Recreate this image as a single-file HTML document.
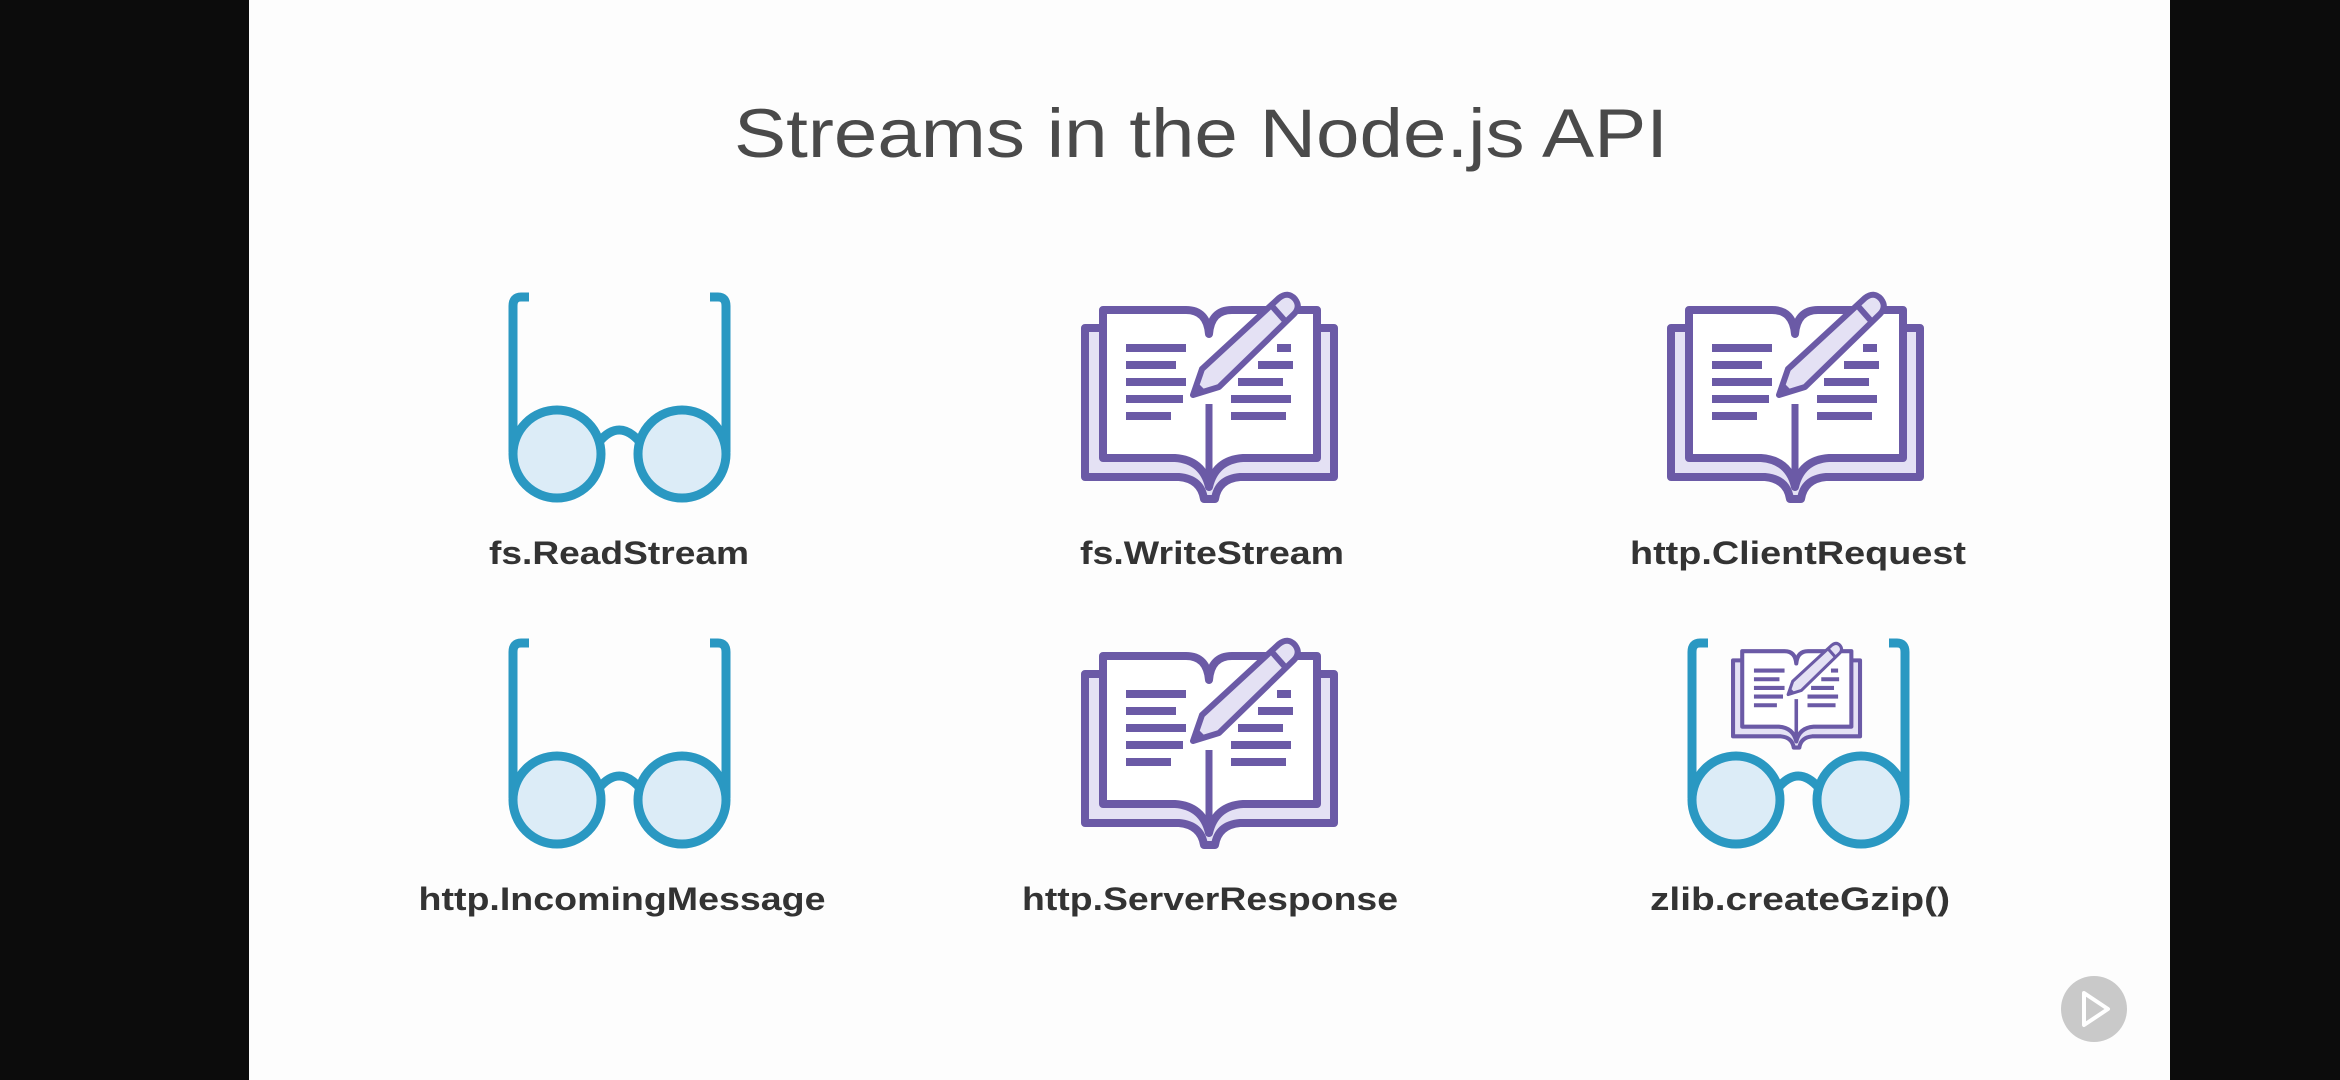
<!DOCTYPE html>
<html><head><meta charset="utf-8"><style>
html,body{margin:0;padding:0;background:#000;}
svg{display:block;}
</style></head><body>
<svg width="2340" height="1080" viewBox="0 0 2340 1080" xmlns="http://www.w3.org/2000/svg">
<defs>
<g id="book">
  <path d="M4,36 L4,185 L98,185 Q120,187 123,207 L134,207 Q137,187 159,185 L253,185 L253,36 Z" fill="#e4e1f4" stroke="#6b5aa6" stroke-width="8" stroke-linejoin="round"/>
  <path d="M22,18 L105,18 Q126,18 128,42 Q130,18 151,18 L236,18 L236,166 L162,166 Q134,168 128,195 Q122,168 94,166 L22,166 Z" fill="#fff" stroke="#6b5aa6" stroke-width="8" stroke-linejoin="round"/>
  <line x1="128" y1="112" x2="128" y2="196" stroke="#6b5aa6" stroke-width="7"/>
  <g stroke="#6b5aa6" stroke-width="8">
    <line x1="45" y1="56" x2="105" y2="56"/>
    <line x1="45" y1="73" x2="95" y2="73"/>
    <line x1="45" y1="90" x2="105" y2="90"/>
    <line x1="45" y1="107" x2="102" y2="107"/>
    <line x1="45" y1="124" x2="90" y2="124"/>
    <line x1="196" y1="56" x2="210" y2="56"/>
    <line x1="177" y1="73" x2="212" y2="73"/>
    <line x1="157" y1="90" x2="202" y2="90"/>
    <line x1="150" y1="107" x2="210" y2="107"/>
    <line x1="150" y1="124" x2="205" y2="124"/>
  </g>
  <path d="M112,103 L121,77 L198,6 Q207,-1 214,7 Q220,15 213,22 L138,95 Z" fill="#e4e1f4" stroke="#6b5aa6" stroke-width="6" stroke-linejoin="round"/>
  <line x1="190" y1="13" x2="205" y2="30" stroke="#6b5aa6" stroke-width="6"/>
  <path d="M112,103 L117,91 L124,98 Z" fill="#6b5aa6"/>
</g>
<g id="glasses" fill="none" stroke="#2a98c2" stroke-width="9">
  <path d="M20,5 L12,5 Q4,5 4,14 L4,160"/>
  <path d="M201,5 L209,5 Q217,5 217,14 L217,160"/>
  <circle cx="48" cy="162" r="44" fill="#dcecf7"/>
  <circle cx="173" cy="162" r="44" fill="#dcecf7"/>
  <path d="M90,150 Q110,126 131,150"/>
</g>
</defs>
<rect x="0" y="0" width="2340" height="1080" fill="#0c0c0c"/>
<rect x="249" y="0" width="1921" height="1080" fill="#fdfdfd"/>
<text x="1201" y="157" text-anchor="middle" font-family="Liberation Sans, sans-serif" font-size="69" fill="#4a4a4a" textLength="934" lengthAdjust="spacingAndGlyphs">Streams in the Node.js API</text>

<use href="#glasses" x="509" y="292"/>
<use href="#book" x="1081" y="292"/>
<use href="#book" x="1667" y="292"/>
<use href="#glasses" x="509" y="638"/>
<use href="#book" x="1081" y="638"/>
<use href="#glasses" x="1688" y="638"/>
<g transform="translate(1731,642) scale(0.51)"><use href="#book"/></g>

<g font-family="Liberation Sans, sans-serif" font-size="32" font-weight="bold" fill="#333" text-anchor="middle">
  <text x="619" y="564" textLength="260" lengthAdjust="spacingAndGlyphs">fs.ReadStream</text>
  <text x="1212" y="564" textLength="264" lengthAdjust="spacingAndGlyphs">fs.WriteStream</text>
  <text x="1798" y="564" textLength="336" lengthAdjust="spacingAndGlyphs">http.ClientRequest</text>
  <text x="622" y="910" textLength="407" lengthAdjust="spacingAndGlyphs">http.IncomingMessage</text>
  <text x="1210" y="910" textLength="376" lengthAdjust="spacingAndGlyphs">http.ServerResponse</text>
  <text x="1800" y="910" textLength="300" lengthAdjust="spacingAndGlyphs">zlib.createGzip()</text>
</g>

<circle cx="2094" cy="1009" r="33" fill="#c9c9c9"/>
<path d="M2084,993 L2108,1009 L2084,1025 Z" fill="none" stroke="#fff" stroke-width="4" stroke-linejoin="round"/>
</svg>
</body></html>
